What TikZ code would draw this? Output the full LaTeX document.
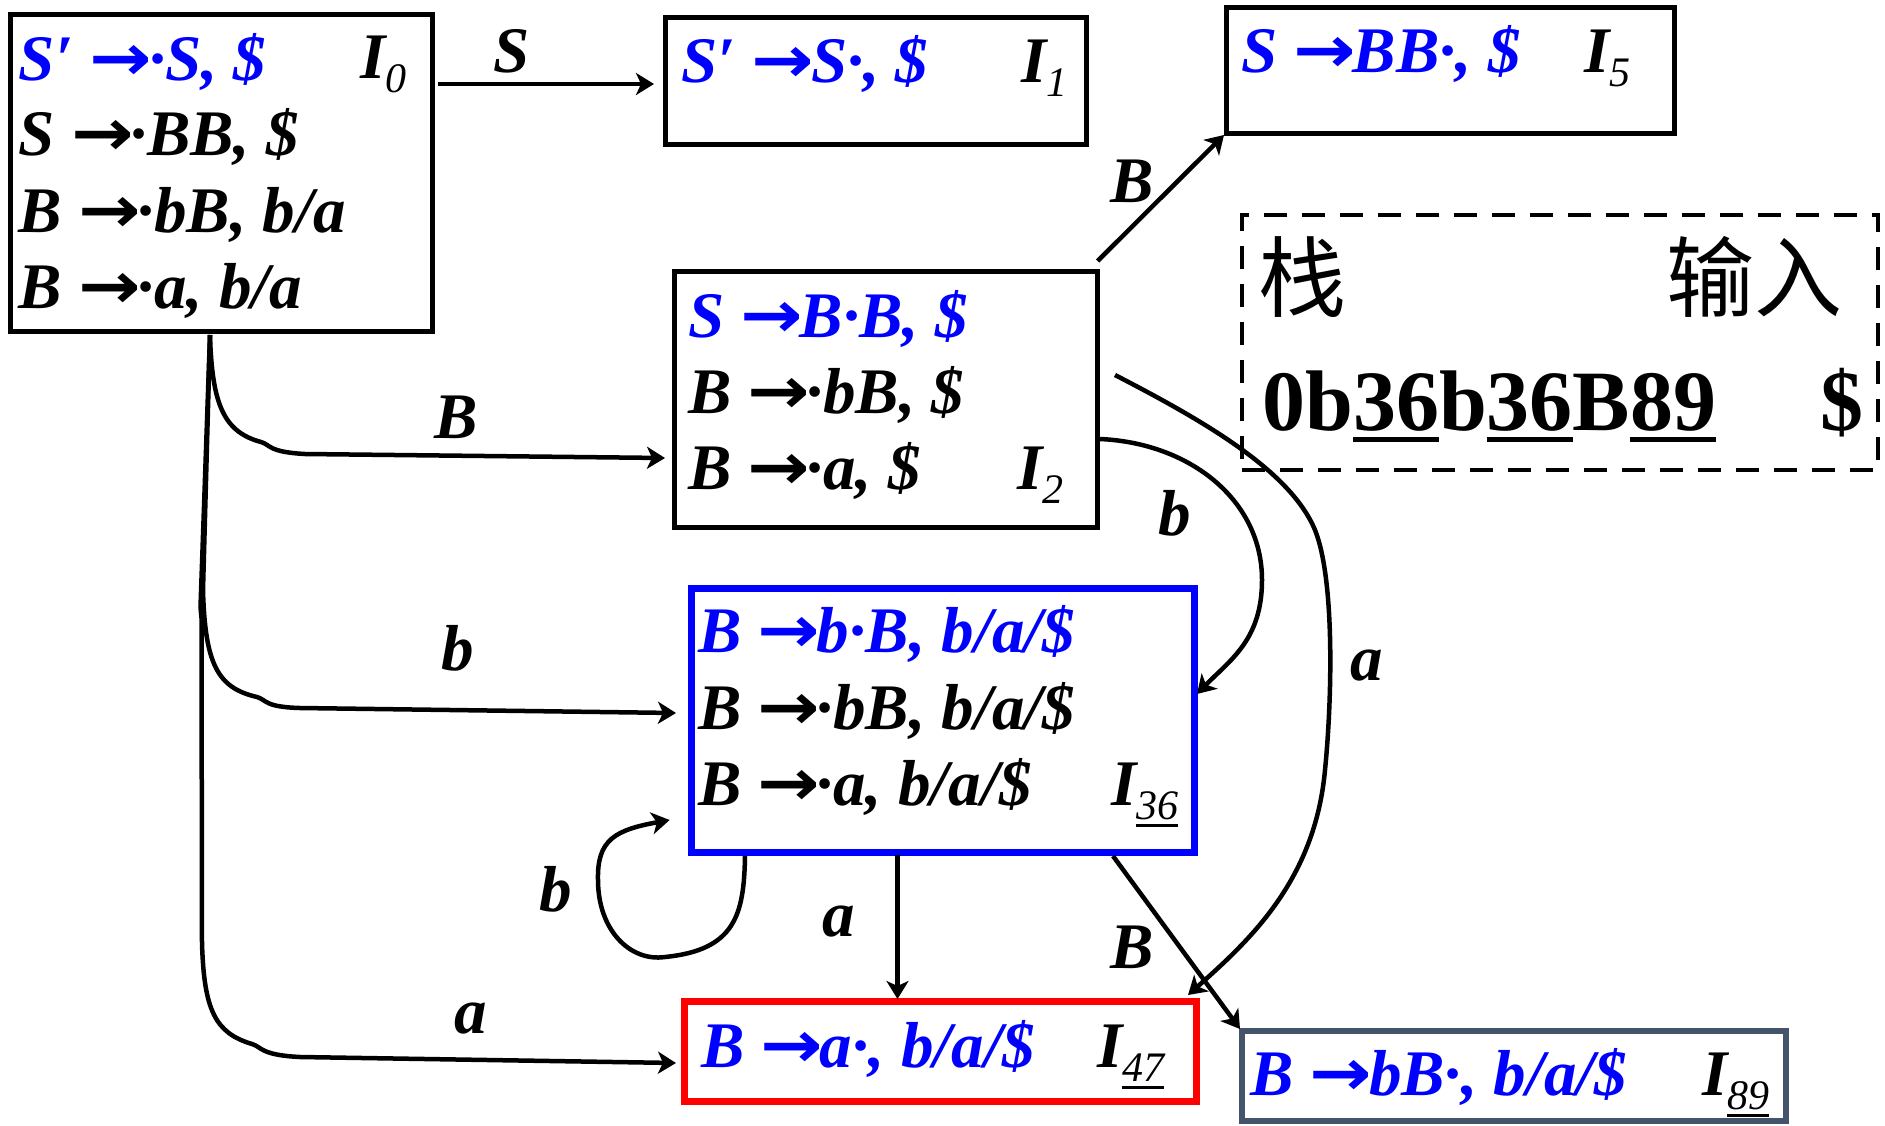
\documentclass[tikz,border=0pt]{standalone}
\usepackage{graphicx}
\usepackage{fontspec}
\setmainfont{Liberation Serif}
\newfontfamily\cjk{Noto Sans CJK SC}
\newfontfamily\arrfont{DejaVu Sans}
\usetikzlibrary{arrows.meta}
\definecolor{pblue}{RGB}{0,0,255}
\definecolor{pred}{RGB}{255,0,0}
\definecolor{slate}{HTML}{44546A}
\newcommand\arw{\scalebox{1.15}[1]{\arrfont\bfseries\upshape →}\kern-0.05em}
\newcommand\itm{\fontsize{65}{78}\selectfont\bfseries\itshape}
\newcommand\ulx[3]{\setbox0\hbox{#3}\rlap{\rule[#1]{\wd0}{#2}}\box0}
\newcommand\Inum[1]{\textbf{\textit{I}}\raisebox{-14pt}{\fontsize{42}{42}\selectfont\mdseries\itshape #1}}
\newcommand\Iunum[1]{\textbf{\textit{I}}\raisebox{-14pt}{\fontsize{42}{42}\selectfont\mdseries\itshape\ulx{-8pt}{3pt}{#1}}}
\newcommand\ulst[1]{\ulx{-11.5pt}{5pt}{#1}}
\begin{document}
\begin{tikzpicture}[x=1pt,y=-1pt,
  bx/.style={draw, inner sep=0pt, outer sep=0pt},
  tx/.style={anchor=base west, inner sep=0pt, outer sep=0pt, font=\itm},
  el/.style={anchor=base, inner sep=0pt, outer sep=0pt, font=\itm},
  arr/.style={line width=4.5pt, -{Stealth[length=18pt,width=22pt,inset=5pt]}}
]
\useasboundingbox (0,0) rectangle (1885,1125);
% boxes
\node[bx, line width=5pt, minimum width=422pt, minimum height=317pt] (I0) at (221,172.5) {};
\node[bx, line width=5pt, minimum width=421pt, minimum height=127pt] (I1) at (875.5,80.5) {};
\node[bx, line width=5pt, minimum width=448pt, minimum height=126pt] (I5) at (1450,70) {};
\node[bx, line width=5pt, minimum width=423pt, minimum height=256pt] (I2) at (885.5,399) {};
\node[bx, draw=pblue, line width=7pt, minimum width=503pt, minimum height=264pt] (I36) at (942.5,720) {};
\node[bx, draw=pred, line width=7pt, minimum width=512pt, minimum height=100pt] (I47) at (940,1051) {};
\node[bx, draw=slate, line width=6pt, minimum width=544pt, minimum height=90pt] (I89) at (1514,1076) {};
\node[bx, dash pattern=on 23pt off 15pt, line width=4.5pt, minimum width=636pt, minimum height=255pt] (stk) at (1560,342.5) {};
% I0
\node[tx, text=pblue] (t0a) at (19,80) {S′ \arw{}·S, \$};
\node[tx] (t0i) at (360,78) {\Inum{0}};
\node[tx] (t0b) at (19,155) {S \arw{}·BB, \$};
\node[tx] (t0c) at (19,232) {B \arw{}·bB, b/a};
\node[tx] (t0d) at (19,308) {B \arw{}·a, b/a};
% I1
\node[tx, text=pblue] (t1a) at (681,82) {S′ \arw{}S·, \$};
\node[tx] (t1i) at (1021,82) {\Inum{1}};
% I5
\node[tx, text=pblue] (t5a) at (1241,72) {S \arw{}BB·, \$};
\node[tx] (t5i) at (1584,72) {\Inum{5}};
% I2
\node[tx, text=pblue] (t2a) at (688,337) {S \arw{}B·B, \$};
\node[tx] (t2b) at (688,413) {B \arw{}·bB, \$};
\node[tx] (t2c) at (688,489) {B \arw{}·a, \$};
\node[tx] (t2i) at (1017,489) {\Inum{2}};
% I36
\node[tx, text=pblue] (t3a) at (698,652) {B \arw{}b·B, b/a/\$};
\node[tx] (t3b) at (698,729) {B \arw{}·bB, b/a/\$};
\node[tx] (t3c) at (698,805) {B \arw{}·a, b/a/\$};
\node[tx] (t3i) at (1111,805) {\Iunum{36}};
% I47
\node[tx, text=pblue] (t4a) at (701,1067) {B \arw{}a·, b/a/\$};
\node[tx] (t4i) at (1097,1067) {\Iunum{47}};
% I89
\node[tx, text=pblue] (t8a) at (1250,1095) {B \arw{}bB·, b/a/\$};
\node[tx] (t8i) at (1702,1095) {\Iunum{89}};
% stack box
\node[anchor=base west, inner sep=0pt, font={\cjk\fontsize{88}{88}\selectfont}] (zh1) at (1258,310) {栈};
\node[anchor=base west, inner sep=0pt, font={\cjk\fontsize{88}{88}\selectfont}] (zh2) at (1666,310) {输入};
\node[anchor=base west, inner sep=0pt, font={\fontsize{86}{86}\selectfont\bfseries}] (stack) at (1262,430) {0b\ulst{36}b\ulst{36}B\ulst{89}};
\node[anchor=base west, inner sep=0pt, font={\fontsize{86}{86}\selectfont\bfseries}] (inp) at (1820,430) {\$};
% edge labels
\node[el] (lS) at (512,72) {S};
\node[el] (lB1) at (1132,202) {B};
\node[el] (lB2) at (456,438) {B};
\node[el] (lb1) at (458,670) {b};
\node[el] (la1) at (471,1033) {a};
\node[el] (lb2) at (556,911) {b};
\node[el] (la2) at (839,936) {a};
\node[el] (lB3) at (1132,968) {B};
\node[el] (lb3) at (1175,535) {b};
\node[el] (la3) at (1367,680) {a};
% connectors
\draw[arr] ([shift={(6,-88.5)}]I0.east) -- ([shift={(-11,3.5)}]I1.west);
\draw[arr] ([shift={(0.6,-10)}]I2.north east) -- ([shift={(-2,2)}]I5.south west);
\draw[arr] ([shift={(-11,4)}]I0.south) .. controls +(2,70) and +(-37,-10) .. ++(51,107)
   .. controls +(10,3) and +(-37,-2) .. ++(44,12) -- ([shift={(-9,59)}]I2.west);
\draw[arr] ([shift={(-11,4)}]I0.south) -- ++(-7,255) .. controls +(2,75) and +(-39,-9) .. ++(54,107)
   .. controls +(10,3) and +(-36,-1) .. ++(43,11) -- ([shift={(-15,-7)}]I36.west);
\draw[arr] ([shift={(-11,4)}]I0.south) -- ++(-9.5,272) -- ++(1,11) -- ++(0.5,325)
   .. controls +(2,67) and +(-37,-11) .. ++(50,101)
   .. controls +(10,3) and +(-40,-2) .. ++(48,13) -- ([shift={(-8,12)}]I47.west);
\draw[arr] ([shift={(-197.5,4)}]I36.south) .. controls +(-1,59) and +(70,-7) .. ++(-80,101)
   .. controls +(-35,5) and +(0,50) .. ++(-67,-77)
   .. controls +(-1,-40) and +(-55,10) .. ([shift={(-21.4,-32)}]I36.south west);
\draw[arr] ([shift={(-45,3)}]I36.south) -- ([shift={(-42.5,-2)}]I47.north);
\draw[arr] ([shift={(-81,4)}]I36.south east) -- ([shift={(-2,-2)}]I89.north west);
\draw[arr] ([shift={(3,40)}]I2.east) .. controls +(90,4) and +(0,-80) .. ++(162,141)
   .. controls +(0,60) and +(33,-34) .. ([shift={(3,-26)}]I36.east);
\draw[arr] ([shift={(18,-24)}]I2.east) .. controls +(87,45) and +(-25,-60) .. ++(200,155)
   .. controls +(20,50) and +(7,-70) .. ++(10,240)
   .. controls +(-10,110) and +(62,-55) .. ([shift={(-8,-6)}]I47.north east);
\end{tikzpicture}
\end{document}
